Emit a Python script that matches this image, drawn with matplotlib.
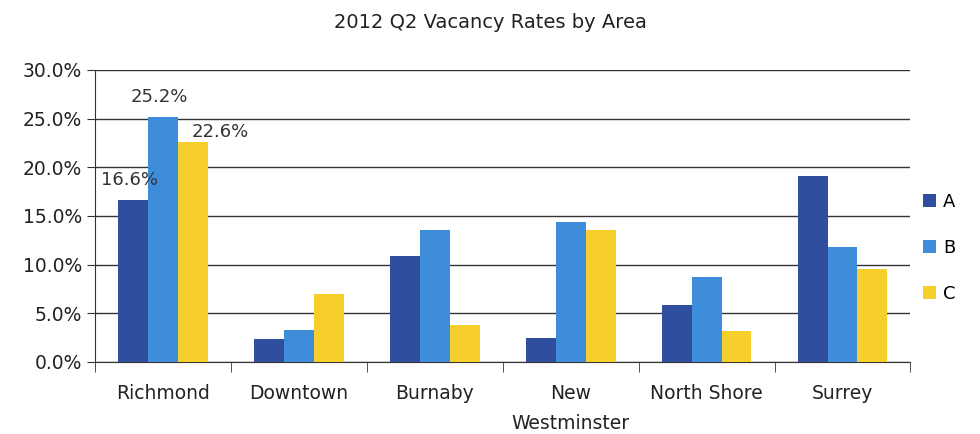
import matplotlib
matplotlib.use("Agg")
import matplotlib.pyplot as plt
import numpy as np
from matplotlib.ticker import FuncFormatter, FixedLocator

plt.rcParams['font.family'] = ['DejaVu Sans']

categories = ["Richmond", "Downtown", "Burnaby", "New\nWestminster", "North Shore", "Surrey"]
series_names = ["A", "B", "C"]
class_a = [16.6, 2.4, 10.9, 2.5, 5.8, 19.1]
class_b = [25.2, 3.3, 13.6, 14.4, 8.7, 11.8]
class_c = [22.6, 7.0, 3.8, 13.6, 3.2, 9.5]
colors = ["#2f4e9e", "#3d8ddb", "#f6cf2c"]

fig = plt.figure(figsize=(9.8, 4.34), dpi=100)
ax = fig.add_axes([0.097, 0.166, 0.832, 0.673])

x = np.arange(len(categories))
w = 0.22
for i, (vals, name) in enumerate(zip([class_a, class_b, class_c], series_names)):
    ax.bar(x + (i - 1) * w, vals, width=w, color=colors[i], label=name, zorder=3)

ax.set_xlim(-0.5, len(categories) - 0.5)
ax.set_ylim(0, 30)
ax.yaxis.set_major_locator(FixedLocator([0, 5, 10, 15, 20, 25, 30]))
ax.yaxis.set_major_formatter(FuncFormatter(lambda v, p: f"{v:.1f}%"))
ax.grid(axis='y', color='#333333', linewidth=1.0, zorder=0)
for s in ['top', 'right']:
    ax.spines[s].set_visible(False)
ax.spines['left'].set_color('#333333')
ax.spines['bottom'].set_color('#333333')

ax.set_xticks(x)
ax.set_xticklabels(categories, fontsize=13.5, color='#222222', linespacing=1.75)
ax.tick_params(axis='x', length=0, pad=16)
ax.set_xticks(np.arange(len(categories) + 1) - 0.5, minor=True)
ax.tick_params(axis='x', which='minor', length=7, color='#333333')
ax.tick_params(axis='y', labelsize=13.5, length=6, color='#333333', labelcolor='#222222')

# data labels for Richmond
ax.text(x[0] - w - 0.03, class_a[0] + 1.2, f"{class_a[0]:.1f}%", ha='center', va='bottom', fontsize=13, color='#333333', zorder=4)
ax.text(x[0] - 0.03, class_b[0] + 1.1, f"{class_b[0]:.1f}%", ha='center', va='bottom', fontsize=13, color='#333333', zorder=4)
ax.text(x[0] + w + 0.2, class_c[0] + 0.1, f"{class_c[0]:.1f}%", ha='center', va='bottom', fontsize=13, color='#333333', zorder=4)

fig.text(0.5, 0.948, "2012 Q2 Vacancy Rates by Area", ha='center', va='center', fontsize=14, color='#222222')

ax.legend(loc='center left', bbox_to_anchor=(1.0, 0.39),
          frameon=False, fontsize=13, handlelength=0.7, handleheight=0.7,
          labelspacing=1.55, handletextpad=0.4, borderaxespad=0.3)

fig.savefig("out.png", dpi=100, facecolor='white')
